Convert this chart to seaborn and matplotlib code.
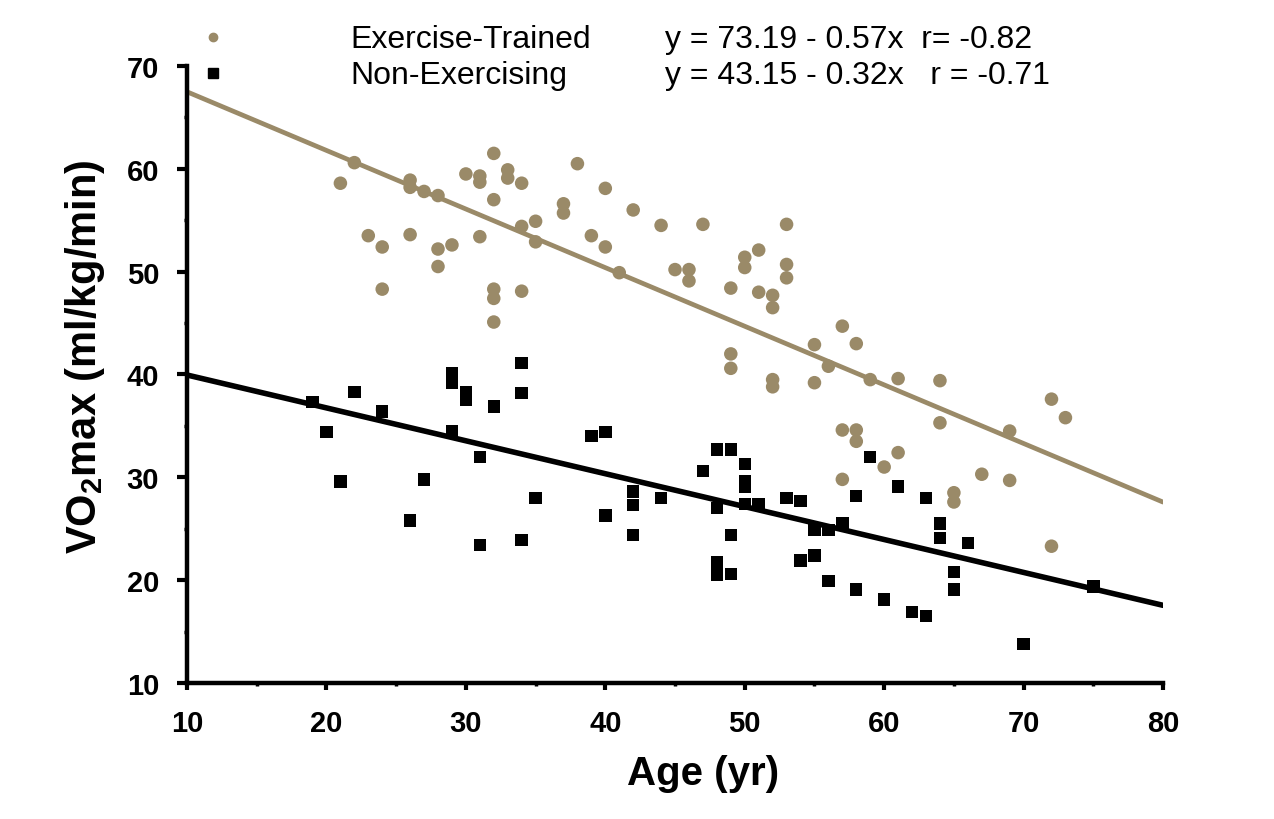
import pandas as pd
import numpy as np
import matplotlib
matplotlib.use("Agg")
import matplotlib.pyplot as plt
import seaborn as sns
from matplotlib.lines import Line2D
from matplotlib.ticker import MultipleLocator

# exercise-trained group (age, VO2max)
age_trained = [32, 22, 21, 26, 26, 27, 28, 30, 31, 31, 32, 33, 33, 34, 34,
               23, 24, 26, 28, 29, 28, 31, 24, 32, 32, 34, 32, 38, 40, 37,
               37, 35, 35, 42, 44, 47, 53, 39, 40, 41, 45, 46, 46, 49, 50,
               50, 51, 51, 52, 52, 53, 53, 49, 49, 52, 52, 55, 55, 56, 57,
               57, 58, 59, 61, 64, 64, 69, 72, 73, 58, 58, 61, 60, 57, 67,
               69, 65, 65, 72]
vo2_trained = [61.5, 60.6, 58.6, 58.9, 58.2, 57.8, 57.4, 59.5, 59.3, 58.7, 57.0, 59.9, 59.1, 58.6, 54.4,
               53.5, 52.4, 53.6, 52.2, 52.6, 50.5, 53.4, 48.3, 48.3, 47.4, 48.1, 45.1, 60.5, 58.1, 56.6,
               55.7, 54.9, 52.9, 56.0, 54.5, 54.6, 54.6, 53.5, 52.4, 49.9, 50.2, 50.2, 49.1, 48.4, 51.4,
               50.4, 52.1, 48.0, 47.7, 46.5, 50.7, 49.4, 42.0, 40.6, 39.5, 38.8, 42.9, 39.2, 40.8, 44.7,
               34.6, 43.0, 39.5, 39.6, 39.4, 35.3, 34.5, 37.6, 35.8, 34.6, 33.5, 32.4, 31.0, 29.8, 30.3,
               29.7, 28.5, 27.6, 23.3]

# non-exercising group
age_sedentary = [29, 29, 30, 30, 32, 22, 19, 24, 20, 29, 31, 21, 27, 26, 31,
                 34, 34, 34, 39, 40, 35, 40, 42, 42, 42, 44, 47, 48, 49, 50,
                 50, 50, 48, 50, 51, 49, 48, 48, 49, 53, 54, 55, 56, 57, 54,
                 55, 56, 61, 58, 63, 59, 58, 60, 62, 63, 64, 64, 66, 65, 65,
                 70, 75]
vo2_sedentary = [40.1, 39.2, 38.3, 37.5, 36.9, 38.3, 37.3, 36.4, 34.4, 34.5, 32.0, 29.6, 29.8, 25.8, 23.4,
                 41.1, 38.2, 23.9, 34.0, 34.4, 28.0, 26.3, 28.6, 27.3, 24.4, 28.0, 30.6, 32.7, 32.7, 31.3,
                 29.6, 29.1, 27.0, 27.4, 27.4, 24.4, 21.7, 20.5, 20.6, 28.0, 27.7, 24.9, 24.9, 25.5, 21.9,
                 22.4, 19.9, 29.1, 28.2, 28.0, 32.0, 19.1, 18.1, 16.9, 16.5, 25.5, 24.1, 23.6, 20.8, 19.1,
                 13.8, 19.4]

groups = ["Exercise-Trained", "Non-Exercising"]
intercepts = [73.19, 43.15]
slopes = [-0.57, -0.32]
fit_text = ["y = 73.19 - 0.57x  r= -0.82", "y = 43.15 - 0.32x   r = -0.71"]

tan = "#9a8a68"
colors = {"Exercise-Trained": tan, "Non-Exercising": "black"}
markers = {"Exercise-Trained": "o", "Non-Exercising": "s"}

df = pd.DataFrame({
    "age": age_trained + age_sedentary,
    "vo2": vo2_trained + vo2_sedentary,
    "group": [groups[0]] * len(age_trained) + [groups[1]] * len(age_sedentary),
})

sns.set_style("white")
plt.rcParams["font.family"] = ["Liberation Sans", "DejaVu Sans"]
plt.rcParams["text.color"] = "black"
plt.rcParams["axes.labelcolor"] = "black"
plt.rcParams["xtick.color"] = "black"
plt.rcParams["ytick.color"] = "black"
plt.rcParams["mathtext.fontset"] = "custom"
plt.rcParams["mathtext.bf"] = "Liberation Sans:bold"
plt.rcParams["mathtext.rm"] = "Liberation Sans"

fig = plt.figure(figsize=(12.74, 8.2), dpi=100)
ax = fig.add_axes([0.1468, 0.1659, 0.7661, 0.7524])

xlim = (10, 80)
xs = np.array(xlim)
for g, b, m in zip(groups, intercepts, slopes):
    sns.lineplot(x=xs, y=b + m * xs, ax=ax, color=colors[g],
                 lw=4.0 if g == groups[1] else 3.4, zorder=2)

sub = df[df.group == groups[0]]
sns.scatterplot(data=sub, x="age", y="vo2", ax=ax, color=tan, marker="o",
                s=95, edgecolor="none", zorder=3, legend=False)
sub = df[df.group == groups[1]]
sns.scatterplot(data=sub, x="age", y="vo2", ax=ax, color="black", marker="s",
                s=80, edgecolor="none", zorder=3, legend=False)

ax.set_xlim(*xlim)
ax.set_ylim(10, 70)
ax.xaxis.set_major_locator(MultipleLocator(10))
ax.yaxis.set_major_locator(MultipleLocator(10))
ax.xaxis.set_minor_locator(MultipleLocator(5))
ax.yaxis.set_minor_locator(MultipleLocator(5))
sns.despine(ax=ax)
for s in ["left", "bottom"]:
    ax.spines[s].set_linewidth(3.2)
    ax.spines[s].set_color("black")
ax.tick_params(axis="y", which="major", direction="out", length=7, width=3,
               labelsize=21, pad=13, left=True)
ax.tick_params(axis="x", which="major", direction="out", length=5, width=3,
               labelsize=21, pad=14, bottom=True)
ax.tick_params(which="minor", direction="out", length=2.5, width=2.5,
               left=True, bottom=True)
for lab in ax.get_xticklabels() + ax.get_yticklabels():
    lab.set_fontweight("bold")

ax.set_xlabel("Age (yr)", fontsize=29, fontweight="bold")
ax.set_ylabel(r"VO$_\mathbf{2}$max (ml/kg/min)", fontsize=30, fontweight="bold")
ax.xaxis.set_label_coords(0.529, -0.115)
ax.yaxis.set_label_coords(-0.082, 0.53)

# legend row with fit equations
rows_y = [0.951, 0.907]
for g, txt, yy in zip(groups, fit_text, rows_y):
    fig.add_artist(Line2D([213 / 1274], [yy + 0.003], transform=fig.transFigure,
                          marker=markers[g], color=colors[g], linestyle="none",
                          markersize=6 if g == groups[0] else 7))
    fig.text(350 / 1274, yy, g, fontsize=23, va="center", ha="left")
    fig.text(665 / 1274, yy, txt, fontsize=23, va="center", ha="left")

fig.savefig("out.png", dpi=100)
